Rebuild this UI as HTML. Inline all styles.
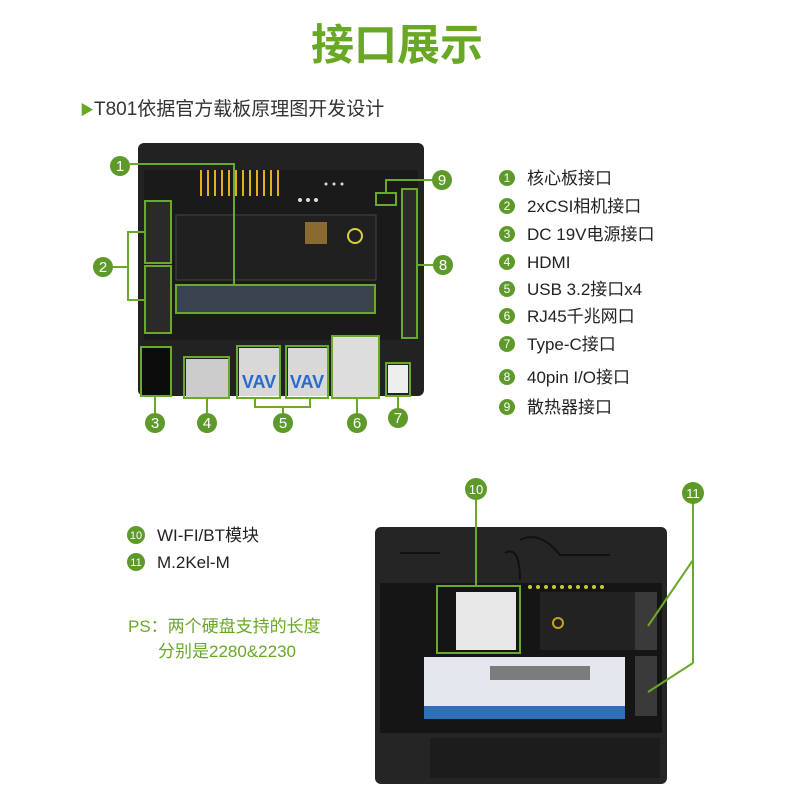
<!DOCTYPE html>
<html><head><meta charset="utf-8"><style>
html,body{margin:0;padding:0;background:#fff;width:800px;height:800px;overflow:hidden}
svg{display:block}
text{font-family:"Liberation Sans","Noto Sans CJK SC",sans-serif}
</style></head><body>
<svg width="800" height="800" viewBox="0 0 800 800">
<text x="397" y="60" text-anchor="middle" font-size="43" font-weight="bold" fill="#68a824">接口展示</text>
<text x="80" y="115" font-size="19" fill="#333"><tspan fill="#68a824" font-size="14">▶</tspan>T801依据官方载板原理图开发设计</text>

<!-- top board -->
<rect x="138" y="143" width="286" height="253" rx="6" fill="#222"/>
<rect x="144" y="170" width="274" height="170" fill="#1a1a1a"/>
<rect x="176" y="215" width="200" height="65" fill="#202020" stroke="#444" stroke-width="1"/>
<g fill="#e0b020">
<rect x="200" y="170" width="2" height="26"/><rect x="207" y="170" width="2" height="26"/><rect x="214" y="170" width="2" height="26"/><rect x="221" y="170" width="2" height="26"/><rect x="228" y="170" width="2" height="26"/><rect x="235" y="170" width="2" height="26"/><rect x="242" y="170" width="2" height="26"/><rect x="249" y="170" width="2" height="26"/><rect x="256" y="170" width="2" height="26"/><rect x="263" y="170" width="2" height="26"/><rect x="270" y="170" width="2" height="26"/><rect x="277" y="170" width="2" height="26"/>
</g>
<g fill="#ddd"><circle cx="300" cy="200" r="2"/><circle cx="308" cy="200" r="2"/><circle cx="316" cy="200" r="2"/><circle cx="326" cy="184" r="1.5"/><circle cx="334" cy="184" r="1.5"/><circle cx="342" cy="184" r="1.5"/></g>
<rect x="305" y="222" width="22" height="22" fill="#8a6a30"/>
<circle cx="355" cy="236" r="7" fill="none" stroke="#d8d040" stroke-width="2"/>
<rect x="176" y="285" width="199" height="28" fill="#3a4250"/>
<rect x="146" y="201" width="24" height="61" fill="#2a2a2a"/>
<rect x="146" y="266" width="24" height="67" fill="#2a2a2a"/>
<rect x="402" y="189" width="15" height="149" fill="#2b2b2b"/>
<rect x="141" y="347" width="30" height="49" fill="#0c0c0c"/>
<rect x="186" y="359" width="42" height="38" fill="#ccc"/>
<rect x="239" y="348" width="40" height="48" fill="#d8d8d8"/>
<rect x="288" y="348" width="39" height="48" fill="#d8d8d8"/>
<text x="259" y="388" text-anchor="middle" font-size="18" font-weight="bold" fill="#2a6ad0">VAV</text>
<text x="307" y="388" text-anchor="middle" font-size="18" font-weight="bold" fill="#2a6ad0">VAV</text>
<rect x="333" y="337" width="45" height="60" fill="#ddd"/>
<rect x="388" y="365" width="20" height="28" fill="#eee"/>
<g fill="none" stroke="#6aaa28" stroke-width="2">
<path d="M130 164 H234 V285"/>
<rect x="176" y="285" width="199" height="28"/>
<rect x="145" y="201" width="26" height="62"/><rect x="145" y="266" width="26" height="67"/>
<path d="M113 267 H128 M145 232 H128 V300 H145"/>
<rect x="141" y="347" width="30" height="49"/>
<rect x="184" y="357" width="45" height="41"/>
<rect x="237" y="346" width="43" height="52"/><rect x="286" y="346" width="42" height="52"/>
<path d="M255 398 V407 H310 V398 M283 407 V413"/>
<rect x="332" y="336" width="47" height="62"/>
<rect x="386" y="363" width="24" height="33"/>
<rect x="402" y="189" width="15" height="149"/>
<path d="M418 265 H433"/>
<rect x="376" y="193" width="20" height="12"/>
<path d="M386 193 V180 H432"/>
<path d="M155 396 V413 M207 398 V413 M357 398 V413 M398 396 V408"/>
</g>
<g fill="#5e9a2a">
<circle cx="120" cy="166" r="10"/><circle cx="103" cy="267" r="10"/><circle cx="155" cy="423" r="10"/><circle cx="207" cy="423" r="10"/><circle cx="283" cy="423" r="10"/><circle cx="357" cy="423" r="10"/><circle cx="398" cy="418" r="10"/><circle cx="443" cy="265" r="10"/><circle cx="442" cy="180" r="10"/>
</g>
<g fill="#fff" font-size="15" text-anchor="middle">
<text x="120" y="171">1</text><text x="103" y="272">2</text><text x="155" y="428">3</text><text x="207" y="428">4</text><text x="283" y="428">5</text><text x="357" y="428">6</text><text x="398" y="423">7</text><text x="443" y="270">8</text><text x="442" y="185">9</text>
</g>

<!-- legend -->
<g fill="#5e9a2a">
<circle cx="507" cy="178" r="8"/><circle cx="507" cy="206" r="8"/><circle cx="507" cy="234" r="8"/><circle cx="507" cy="262" r="8"/><circle cx="507" cy="289" r="8"/><circle cx="507" cy="316" r="8"/><circle cx="507" cy="344" r="8"/><circle cx="507" cy="377" r="8"/><circle cx="507" cy="407" r="8"/>
</g>
<g fill="#fff" font-size="12" text-anchor="middle">
<text x="507" y="182">1</text><text x="507" y="210">2</text><text x="507" y="238">3</text><text x="507" y="266">4</text><text x="507" y="293">5</text><text x="507" y="320">6</text><text x="507" y="348">7</text><text x="507" y="381">8</text><text x="507" y="411">9</text>
</g>
<g fill="#222" font-size="17">
<text x="527" y="184">核心板接口</text><text x="527" y="212">2xCSI相机接口</text><text x="527" y="240">DC 19V电源接口</text><text x="527" y="268">HDMI</text><text x="527" y="295">USB 3.2接口x4</text><text x="527" y="322">RJ45千兆网口</text><text x="527" y="350">Type-C接口</text><text x="527" y="383">40pin I/O接口</text><text x="527" y="413">散热器接口</text>
</g>

<!-- bottom legend -->
<circle cx="136" cy="535" r="9" fill="#5e9a2a"/><circle cx="136" cy="562" r="9" fill="#5e9a2a"/>
<text x="136" y="539" fill="#fff" font-size="11" text-anchor="middle">10</text>
<text x="136" y="566" fill="#fff" font-size="11" text-anchor="middle">11</text>
<text x="157" y="541" font-size="17" fill="#222">WI-FI/BT模块</text>
<text x="157" y="568" font-size="17" fill="#222">M.2Kel-M</text>
<text x="128" y="632" font-size="17" fill="#68a824">PS：两个硬盘支持的长度</text>
<text x="158" y="657" font-size="17" fill="#68a824">分别是2280&amp;2230</text>

<!-- bottom board -->
<rect x="375" y="527" width="292" height="257" rx="6" fill="#252525"/>
<path d="M400 553 H440 M505 553 Q520 545 520 580 M520 540 Q540 530 560 555 H610" stroke="#111" stroke-width="2" fill="none"/>
<rect x="380" y="583" width="282" height="150" fill="#151515"/>
<g fill="#c8c830"><circle cx="530" cy="587" r="2"/><circle cx="538" cy="587" r="2"/><circle cx="546" cy="587" r="2"/><circle cx="554" cy="587" r="2"/><circle cx="562" cy="587" r="2"/><circle cx="570" cy="587" r="2"/><circle cx="578" cy="587" r="2"/><circle cx="586" cy="587" r="2"/><circle cx="594" cy="587" r="2"/><circle cx="602" cy="587" r="2"/></g>
<rect x="456" y="592" width="60" height="58" fill="#e8e8e8"/>
<rect x="540" y="592" width="95" height="58" fill="#222"/>
<circle cx="558" cy="623" r="5" fill="none" stroke="#c8a020" stroke-width="2"/>
<rect x="635" y="592" width="22" height="58" fill="#3a3a3a"/>
<rect x="635" y="656" width="22" height="60" fill="#3a3a3a"/>
<rect x="424" y="657" width="201" height="62" fill="#e4e8ee"/>
<rect x="490" y="666" width="100" height="14" fill="#333" opacity="0.6"/>
<rect x="424" y="706" width="201" height="13" fill="#2f6fb8"/>
<rect x="430" y="738" width="230" height="40" fill="#1c1c1c"/>
<g fill="none" stroke="#6aaa28" stroke-width="2">
<rect x="437" y="586" width="83" height="67"/>
<path d="M476 499 V586"/>
<path d="M693 503 V663 M693 560 L648 626 M693 663 L648 692"/>
</g>
<circle cx="476" cy="489" r="11" fill="#5e9a2a"/><circle cx="693" cy="493" r="11" fill="#5e9a2a"/>
<text x="476" y="494" fill="#fff" font-size="13" text-anchor="middle">10</text>
<text x="693" y="498" fill="#fff" font-size="13" text-anchor="middle">11</text>
</svg>
</body></html>
